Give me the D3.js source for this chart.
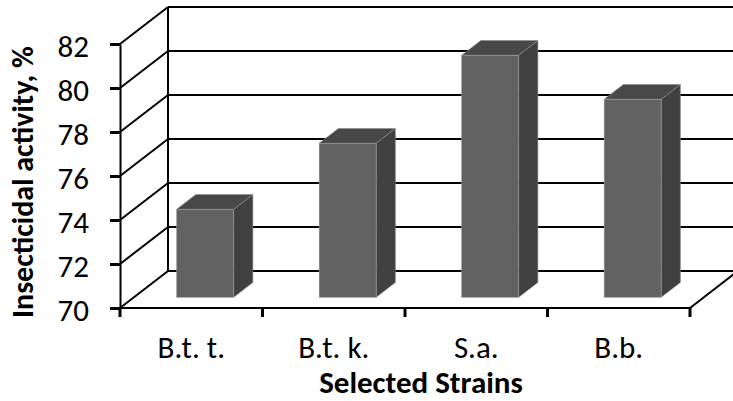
<!DOCTYPE html>
<html>
<head>
<meta charset="utf-8">
<script src="https://cdn.jsdelivr.net/npm/d3@7"></script>
<style>
  html, body { margin: 0; padding: 0; background: #fff; }
  svg text { font-family: Carlito, Lato, "Liberation Sans", sans-serif; fill: #000; }
</style>
</head>
<body>
<div id="chart"></div>
<script>
// 3D-style column chart: insecticidal activity of selected strains

const strains = ["B.t. t.", "B.t. k.", "S.a.", "B.b."];
const activity = [74, 77, 81, 79];
const yTicks = [70, 72, 74, 76, 78, 80, 82];

const width = 733, height = 401;

// front plane of the "box"
const plotLeft = 120, plotRight = 690, plotBottom = 308, plotTop = 44;
// depth of the walls (offset from front plane to back wall)
const depth = {dx: 48, dy: -37};
// bars sit between these fractions of the depth
const barT0 = 0.29, barT1 = 0.69;

const svg = d3.select("#chart")
  .append("svg")
  .attr("width", width)
  .attr("height", height);

const x = d3.scaleBand()
  .domain(strains)
  .range([plotLeft, plotRight])
  .paddingInner(0)
  .paddingOuter(0);

const y = d3.scaleLinear()
  .domain([70, 82])
  .range([plotBottom, plotTop]);

const off = t => ({dx: depth.dx * t, dy: depth.dy * t});
const pts = arr => arr.map(p => p.join(",")).join(" ");

const lineCol = "#000";
const grid = svg.append("g").attr("fill", "none").attr("stroke", lineCol).attr("stroke-width", 2);

// back wall gridlines
yTicks.forEach(v => {
  grid.append("line")
    .attr("x1", plotLeft + depth.dx).attr("x2", plotRight + depth.dx + 10)
    .attr("y1", y(v) + depth.dy).attr("y2", y(v) + depth.dy);
  // side wall diagonals
  grid.append("line")
    .attr("x1", plotLeft).attr("y1", y(v))
    .attr("x2", plotLeft + depth.dx).attr("y2", y(v) + depth.dy);
});
// back wall left edge
grid.append("line")
  .attr("x1", plotLeft + depth.dx).attr("x2", plotLeft + depth.dx)
  .attr("y1", y(82) + depth.dy).attr("y2", y(70) + depth.dy);
// floor right edge
grid.append("line")
  .attr("x1", plotRight).attr("y1", y(70))
  .attr("x2", plotRight + depth.dx).attr("y2", y(70) + depth.dy);

// bars
const bars = svg.append("g");
const bw = x.bandwidth() * 0.4;
strains.forEach((s, i) => {
  const a = off(barT0), b = off(barT1);
  const x0 = x(s) + (x.bandwidth() - bw) / 2 + a.dx;
  const x1 = x0 + bw;
  const yb = y(70) + a.dy;
  const yt = y(activity[i]) + a.dy;
  const ddx = b.dx - a.dx, ddy = b.dy - a.dy;
  // side face
  bars.append("polygon")
    .attr("points", pts([[x1, yb], [x1 + ddx, yb + ddy], [x1 + ddx, yt + ddy], [x1, yt]]))
    .attr("fill", "#404040").attr("stroke", "#8a8a8a").attr("stroke-width", 0.6);
  // top face
  bars.append("polygon")
    .attr("points", pts([[x0, yt], [x0 + ddx, yt + ddy], [x1 + ddx, yt + ddy], [x1, yt]]))
    .attr("fill", "#484848").attr("stroke", "#8a8a8a").attr("stroke-width", 0.6);
  // front face
  bars.append("rect")
    .attr("x", x0).attr("y", yt)
    .attr("width", bw).attr("height", yb - yt)
    .attr("fill", "#626262").attr("stroke", "#9a9a9a").attr("stroke-width", 0.6);
});

// value axis on the front plane
const yAxis = svg.append("g")
  .attr("transform", `translate(${plotLeft},0)`)
  .call(d3.axisLeft(y).tickValues(yTicks).tickSize(10).tickPadding(21).tickSizeOuter(0));
yAxis.select(".domain").attr("stroke", lineCol).attr("stroke-width", 2);
yAxis.selectAll(".tick line").attr("stroke", lineCol).attr("stroke-width", 3);
yAxis.selectAll(".tick text").attr("font-size", 31).attr("fill", "#000").attr("dy", "0.4em");

// category axis on the front plane
const xAxis = svg.append("g")
  .attr("transform", `translate(0,${plotBottom})`);
xAxis.append("line")
  .attr("x1", plotLeft).attr("x2", plotRight)
  .attr("stroke", lineCol).attr("stroke-width", 2);
const edges = strains.map(s => x(s)).concat([plotRight]);
xAxis.selectAll(".edge").data(edges).join("line")
  .attr("class", "edge")
  .attr("x1", d => d).attr("x2", d => d)
  .attr("y1", 0).attr("y2", 9)
  .attr("stroke", lineCol).attr("stroke-width", 3);
xAxis.selectAll(".lbl").data(strains).join("text")
  .attr("class", "lbl")
  .attr("x", d => x(d) + x.bandwidth() / 2)
  .attr("y", 50)
  .attr("text-anchor", "middle")
  .attr("font-size", 31)
  .text(d => d);

// axis titles
svg.append("text")
  .attr("x", 421).attr("y", 393)
  .attr("text-anchor", "middle")
  .attr("font-size", 31).attr("font-weight", "bold")
  .text("Selected Strains");

svg.append("text")
  .attr("transform", "translate(33,182) rotate(-90)")
  .attr("text-anchor", "middle")
  .attr("font-size", 30).attr("font-weight", "bold")
  .text("Insecticidal activity, %");
</script>
</body>
</html>
